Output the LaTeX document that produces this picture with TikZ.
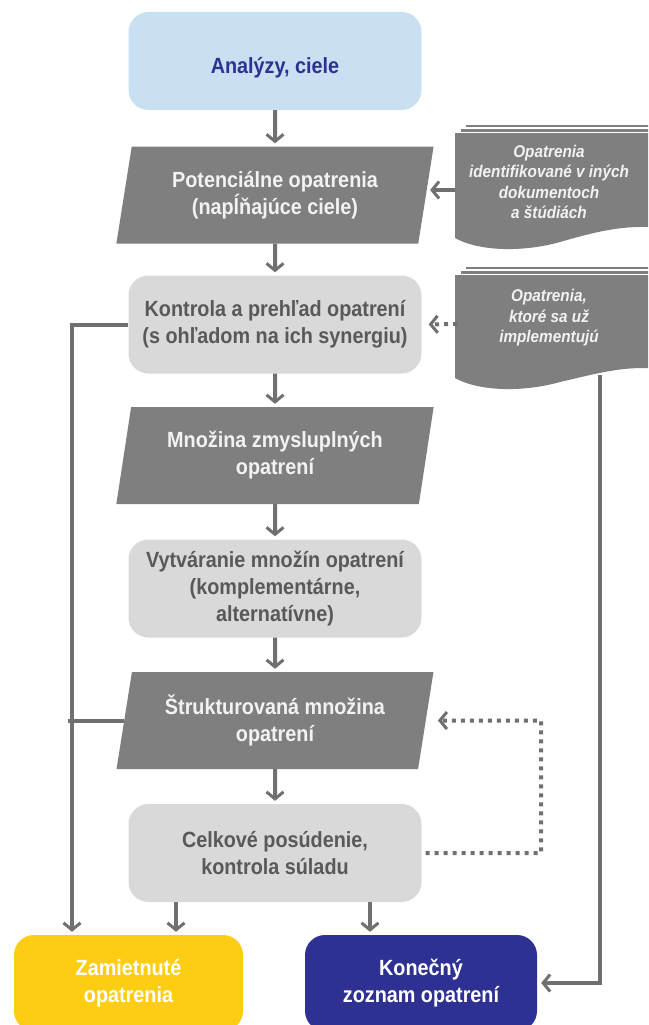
\documentclass[tikz,border=0pt]{standalone}
\usepackage{fontspec}
\setmainfont{Liberation Sans}[FakeStretch=0.9]
\usetikzlibrary{arrows.meta,shapes.geometric}
\definecolor{lblue}{HTML}{C9DFF2}
\definecolor{dblue}{HTML}{2E3192}
\definecolor{pgray}{HTML}{7F7F7F}
\definecolor{ptext}{HTML}{F2F2F2}
\definecolor{bgray}{HTML}{D9D9D9}
\definecolor{btext}{HTML}{595959}
\definecolor{cgray}{HTML}{707070}
\definecolor{yel}{HTML}{FDCD14}
\tikzset{
  mainfont/.style={font=\bfseries\fontsize{22}{27}\selectfont},
  rbox/.style={rounded corners=20pt, minimum width=293pt, minimum height=98pt, align=center, inner sep=0pt, mainfont},
  lbox/.style={rbox, fill=bgray, text=btext},
  para/.style={trapezium, trapezium left angle=77, trapezium right angle=103, trapezium stretches=true,
    minimum width=318pt, minimum height=97pt, fill=pgray, text=ptext, align=center, inner sep=0pt, mainfont},
  endbox/.style={rounded corners=20pt, minimum height=96pt, align=center, inner sep=0pt, text=white, mainfont},
  doctext/.style={align=center, text=ptext, font=\bfseries\itshape\fontsize{17}{20.5}\selectfont},
  tip/.style={-{Straight Barb[length=7pt,width=17pt,line width=3pt]}},
  conn/.style={draw=cgray, line width=4pt, tip},
  plainline/.style={draw=cgray, line width=4pt},
  dotconn/.style={draw=cgray, line width=4pt, dash pattern=on 4pt off 5pt, tip},
}
\begin{document}
\begin{tikzpicture}[x=1pt,y=-1pt]
\clip (0,0) rectangle (648,1025);
\fill[white] (0,0) rectangle (648,1025);

% main column
\node[rbox, fill=lblue, text=dblue, text height=30pt, text depth=5pt] (b1) at (275,61) {Analýzy, ciele};
\node[para] (p2) at (275,195) {Potenciálne opatrenia\\(napĺňajúce ciele)};
\node[lbox] (b3) at (275,324.5) {Kontrola a prehľad opatrení\\(s ohľadom na ich synergiu)};
\node[para] (p4) at (275,455.5) {Množina zmysluplných\\opatrení};
\node[lbox] (b5) at (275,588.5) {Vytváranie množín opatrení\\(komplementárne,\\alternatívne)};
\node[para] (p6) at (275,720.5) {Štrukturovaná množina\\opatrení};
\node[lbox] (b7) at (275,853) {Celkové posúdenie,\\kontrola súladu};

% end boxes
\node[endbox, fill=yel, minimum width=229pt] (rej) at (128.5,983) {Zamietnuté\\opatrenia};
\node[endbox, fill=dblue, minimum width=232pt] (fin) at (421,983) {Konečný\\zoznam opatrení};

% documents
\fill[pgray] (466,124.5) rectangle (660,127);
\fill[pgray] (461,129) rectangle (660,131.5);
\fill[pgray] (455,133) -- (660,133) -- (660,228)
  .. controls (625,224) and (595,232) .. (560,242)
  .. controls (525,252) and (480,252) .. (455,238) -- cycle;
\node[doctext] (d1) at (549,182) {Opatrenia\\identifikované v iných\\dokumentoch\\a štúdiách};
\coordinate (d1w) at (455,190);

\fill[pgray] (466,266.5) rectangle (660,269);
\fill[pgray] (461,271) rectangle (660,273.5);
\fill[pgray] (455,275) -- (660,275) -- (660,369)
  .. controls (625,365) and (595,374) .. (560,382)
  .. controls (525,392) and (480,392) .. (455,378) -- cycle;
\node[doctext] (d2) at (549,318) {Opatrenia,\\ktoré sa už\\implementujú};
\coordinate (d2w) at (457,324);
\coordinate (d2b) at (600,375);

% vertical flow
\draw[conn, shorten >=3pt] (b1.south) -- (p2.north);
\draw[conn, shorten >=3pt] (p2.south) -- (b3.north);
\draw[conn, shorten >=3pt] (b3.south) -- (p4.north);
\draw[conn, shorten >=3pt] (p4.south) -- (b5.north);
\draw[conn, shorten >=3pt] (b5.south) -- (p6.north);
\draw[conn, shorten >=3pt] (p6.south) -- (b7.north);

% side inputs
\draw[conn, shorten >=4pt] (d1w) -- (d1w -| p2.east);
\draw[dotconn, shorten >=7pt] (d2w) -- (b3.east);

% left rejection line
\draw[conn, shorten >=3pt] (b3.west) -| ([xshift=-56.5pt]rej.north);
\draw[plainline] (p6.west) -- ++(-56,0);
\draw[conn, shorten >=3pt] ([xshift=-99pt]b7.south) -- ([xshift=-99pt]b7.south |- rej.north);
\draw[conn, shorten >=3pt] ([xshift=95pt]b7.south) -- ([xshift=95pt]b7.south |- fin.north);

% right line to final list
\draw[conn, shorten >=4pt] (d2b) |- (fin.east);

% dotted feedback
\coordinate (fb) at (541,720.5);
\draw[dotconn, shorten >=12pt] ([xshift=4pt]b7.east) -| (fb) -- (p6.east);
\end{tikzpicture}
\end{document}
